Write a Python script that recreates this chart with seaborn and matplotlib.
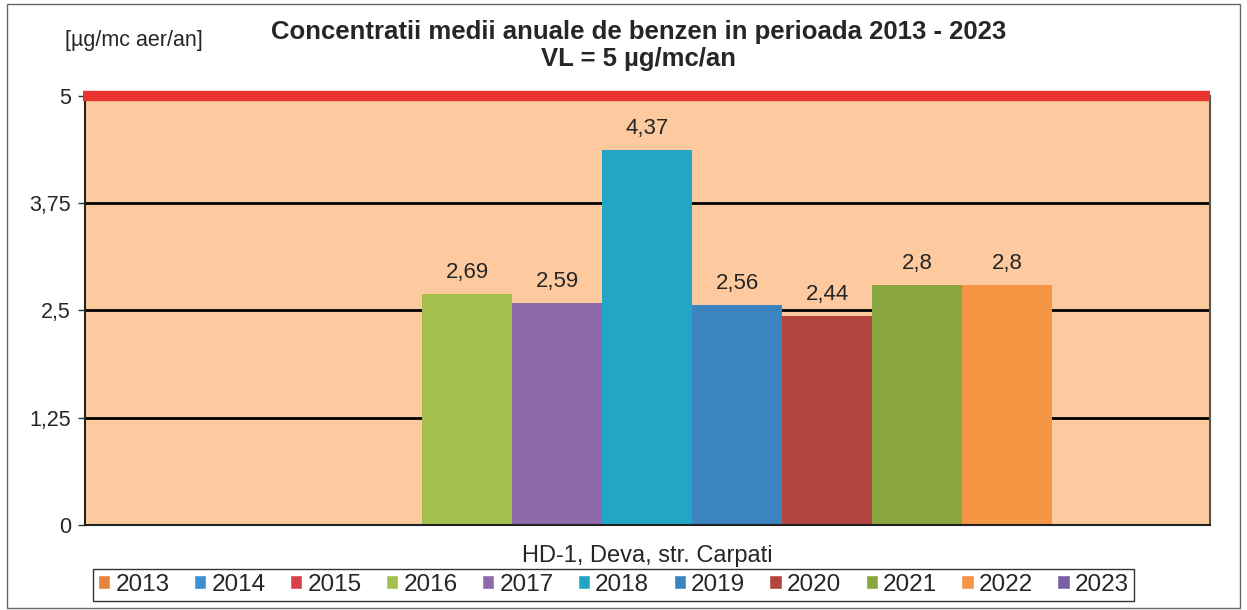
import numpy as np
import pandas as pd
import seaborn as sns
import matplotlib.pyplot as plt
from matplotlib.patches import Patch, Rectangle

# date
statie = 'HD-1, Deva, str. Carpati'
ani = ['2013', '2014', '2015', '2016', '2017', '2018', '2019', '2020', '2021', '2022', '2023']
valori = [np.nan, np.nan, np.nan, 2.69, 2.59, 4.37, 2.56, 2.44, 2.8, 2.8, np.nan]
culori = ['#E5863C', '#3E8FD4', '#D8434B', '#A2C04B', '#8E69AC', '#22A6C6',
          '#3C84C0', '#B3453F', '#88A53F', '#F59645', '#7C5EA4']
yticks = [0, 1.25, 2.5, 3.75, 5]
valoare_limita = 5

df = pd.DataFrame({'statie': statie, 'an': ani, 'valoare': valori})

sns.set_style('white')
plt.rcParams['font.family'] = ['Liberation Sans', 'DejaVu Sans']

fig = plt.figure(figsize=(12.47, 6.10), dpi=100)
ax = fig.add_axes([0.068, 0.139, 0.902, 0.704])
ax.set_facecolor('#FCCA9E')

# gridlines behind the bars
for y in yticks[1:-1]:
    ax.axhline(y, color='black', lw=2, zorder=0.5)

sns.barplot(data=df, x='statie', y='valoare', hue='an', hue_order=ani,
            palette=culori, saturation=1, width=0.8, legend=False, ax=ax, zorder=2,
            edgecolor='none')

# etichete valori
for cont, v in zip(ax.containers, valori):
    if np.isnan(v):
        continue
    ax.bar_label(cont, labels=[f'{v:g}'.replace('.', ',')], padding=8, fontsize=16)

# linia valorii limita
ax.axhline(valoare_limita, color='#E8332E', lw=7.5, zorder=3, clip_on=False,
           xmin=-0.002, xmax=1.0, solid_capstyle='butt')

ax.set_xlim(-0.4545, 0.4545)
ax.set_ylim(0, 5)
ax.set_yticks(yticks)
ax.set_yticklabels([f'{t:g}'.replace('.', ',') for t in yticks], fontsize=15.5)
ax.tick_params(axis='y', length=5, width=1, color='#333333', pad=5, left=True)
ax.tick_params(axis='x', length=0, labelsize=17, pad=14)
ax.set_xlabel('')
ax.set_ylabel('')

for s in ['left', 'bottom']:
    ax.spines[s].set_color('#222222')
    ax.spines[s].set_linewidth(1.5)
ax.spines['right'].set_color('#555555')
ax.spines['right'].set_linewidth(1.5)
ax.spines['top'].set_visible(False)

fig.text(0.512, 0.947, 'Concentratii medii anuale de benzen in perioada 2013 - 2023',
         ha='center', va='center', fontsize=18.5, fontweight='bold')
fig.text(0.512, 0.903, 'VL = 5 µg/mc/an', ha='center', va='center',
         fontsize=18.5, fontweight='bold')
fig.text(0.107, 0.933, '[µg/mc aer/an]', ha='center', va='center', fontsize=15.5)

handles = [Patch(facecolor=c, label=a) for a, c in zip(ani, culori)]
leg = fig.legend(handles=handles, ncol=11, loc='center', bbox_to_anchor=(0.492, 0.041),
                 fontsize=17.5, frameon=True, fancybox=False, edgecolor='black',
                 handlelength=0.5, handleheight=0.5, handletextpad=0.22,
                 columnspacing=1.0, borderpad=0.2, borderaxespad=0)
leg.get_frame().set_linewidth(1)

# rama exterioara
fig.patches.append(Rectangle((0.006, 0.003), 0.988, 0.99, transform=fig.transFigure,
                             fill=False, edgecolor='#666666', lw=1))

fig.savefig('out.png', dpi=100)
